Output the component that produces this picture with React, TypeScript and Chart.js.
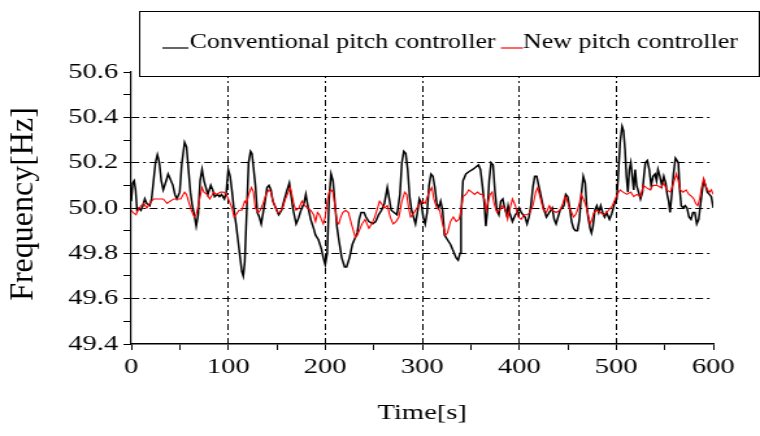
import React, { useEffect, useRef } from "react";
import { Chart, registerables } from "chart.js";

Chart.register(...registerables);

// ---------- data ----------
const convTime = [
  0, 1.5, 3, 4.5, 6, 8, 10, 12, 14, 16, 19, 21, 23, 25, 27, 29, 31, 33, 36, 38, 40, 43, 45, 47, 50, 52, 55, 57, 59, 61,
  63, 65, 67, 69, 71, 73, 75, 77, 79, 82, 84, 86, 89, 91, 93, 96, 98, 100, 102, 104, 106, 108, 110, 112, 114, 115.5, 117, 119, 121, 123,
  124.5, 126, 128, 130, 132, 134, 136, 138, 140, 142, 144, 146, 149, 152, 155, 158, 160, 163, 165, 167, 170, 172, 175, 178, 180, 182, 185, 188, 190, 193,
  196, 198, 200, 202, 204, 206, 208, 210, 212, 214, 217, 220, 222, 225, 228, 231, 233, 235, 237, 240, 242, 245, 249, 252, 255, 258, 261, 264, 266, 268,
  271, 274, 277, 279, 281, 283, 285, 287, 289, 291, 293, 295, 297, 299, 301, 303, 305, 307, 309, 311, 313, 315, 317, 319, 321, 323, 326, 329, 332, 335,
  337, 339, 340, 342, 345, 348, 352, 355, 358, 360, 362, 364, 365.5, 367, 369, 371, 373, 375, 377, 379, 381, 383, 385, 387, 388.5, 390, 393, 396, 398, 400,
  402, 404, 406, 408, 410, 412, 414, 416, 418, 420, 422, 425, 428, 431, 434, 436, 438, 440, 442, 444, 446, 448, 450, 452, 454, 456, 458, 460, 462, 464,
  466, 468, 469.5, 471, 473, 474.5, 476, 478, 480, 482, 484, 486, 488, 490, 493, 495, 497, 499, 500.5, 502, 504, 506, 507.5, 509, 510.5, 512, 513.5, 515, 516.5, 518,
  519.5, 521, 523, 525, 527, 528.5, 530, 532, 534, 536, 538, 540, 541.5, 543, 545, 547, 549, 551, 552.5, 554, 555.5, 557, 559, 561, 562.5, 564, 565.5, 567, 569, 571,
  573, 575, 577, 579, 581, 583, 585, 587, 589, 590.5, 592, 594, 596, 598, 600,
];
const convFreq = [
  50.03, 50.11, 50.12, 50.08, 49.99, 50.0, 49.99, 50.01, 50.04, 50.02, 50.01, 50.04, 50.12, 50.2, 50.235, 50.2, 50.12, 50.08, 50.12, 50.15, 50.13, 50.1, 50.06, 50.04, 50.07, 50.19, 50.29, 50.27, 50.17, 50.07,
  50.01, 49.97, 49.92, 49.97, 50.12, 50.17, 50.12, 50.09, 50.06, 50.1, 50.08, 50.05, 50.06, 50.05, 50.06, 50.04, 50.07, 50.17, 50.14, 50.07, 49.99, 49.93, 49.86, 49.79, 49.72, 49.7, 49.76, 49.98, 50.2, 50.25,
  50.24, 50.18, 50.1, 49.98, 49.96, 49.93, 49.98, 50.03, 50.09, 50.1, 50.08, 50.03, 50.0, 49.97, 49.99, 50.04, 50.07, 50.11, 50.05, 49.99, 49.93, 49.95, 49.99, 50.02, 50.06, 50.01, 49.95, 49.91, 49.88, 49.86,
  49.82, 49.78, 49.75, 49.8, 50.04, 50.15, 50.12, 50.02, 49.92, 49.86, 49.78, 49.74, 49.74, 49.78, 49.84, 49.87, 49.89, 49.95, 49.98, 49.98, 49.96, 49.94, 49.93, 49.94, 49.97, 49.99, 50.02, 50.09, 50.04, 49.99,
  49.98, 49.97, 50.06, 50.2, 50.25, 50.24, 50.17, 50.05, 49.99, 49.96, 49.93, 49.98, 50.04, 50.02, 49.96, 49.93, 49.98, 50.1, 50.15, 50.14, 50.09, 50.02, 50.0, 50.03, 49.99, 49.88, 49.86, 49.84, 49.81, 49.78,
  49.77, 49.8, 49.96, 50.12, 50.15, 50.16, 50.17, 50.18, 50.19, 50.17, 50.1, 50.02, 49.92, 49.98, 50.12, 50.2, 50.19, 50.07, 49.99, 49.97, 50.03, 50.04, 50.0, 49.97, 50.01, 49.98, 49.94, 49.97, 49.98, 50.0,
  49.98, 49.97, 49.96, 49.93, 49.96, 50.01, 50.09, 50.14, 50.14, 50.1, 50.06, 50.0, 49.96, 49.98, 50.0, 49.95, 49.93, 49.96, 49.99, 50.0, 50.01, 50.06, 50.05, 50.0, 49.94, 49.91, 49.9, 49.9, 49.95, 50.06,
  50.14, 50.11, 50.01, 49.96, 49.91, 49.89, 49.92, 49.99, 50.01, 49.98, 50.01, 49.98, 49.96, 49.98, 49.95, 49.97, 50.0, 50.03, 50.04, 50.14, 50.29, 50.36, 50.34, 50.26, 50.14, 50.07, 50.17, 50.2, 50.14, 50.08,
  50.17, 50.1, 50.07, 50.04, 50.07, 50.14, 50.2, 50.21, 50.17, 50.1, 50.14, 50.15, 50.12, 50.17, 50.14, 50.1, 50.14, 50.11, 50.06, 50.03, 49.98, 50.05, 50.15, 50.22, 50.21, 50.2, 50.08, 50.01, 50.0, 50.01,
  50.0, 49.96, 49.95, 49.98, 49.98, 49.93, 49.95, 50.02, 50.09, 50.12, 50.1, 50.07, 50.06, 50.05, 50.0,
];

const newTime = [
  0, 2, 5, 7, 10, 13, 16, 19, 23, 26, 30, 33, 37, 40, 44, 47, 51, 55, 57, 59, 62, 65, 67, 69, 72, 73, 75, 78, 81, 85,
  88, 92, 95, 98, 101, 104, 106, 108, 111, 114, 117, 119, 121, 124, 126, 128, 131, 133, 136, 139, 142, 144, 146, 149, 151, 153, 156, 159, 162, 164,
  166, 168, 170, 173, 176, 179, 182, 185, 188, 190, 192, 194, 196, 198, 200, 202, 204, 206, 208, 210, 212, 214, 216, 218, 221, 224, 227, 229, 231, 233,
  236, 238, 241, 243, 245, 248, 251, 254, 256, 258, 261, 264, 267, 270, 273, 276, 279, 282, 284, 286, 288, 290, 293, 296, 300, 303, 307, 310, 312, 315,
  318, 321, 324, 326, 329, 332, 335, 338, 340, 342, 345, 348, 351, 354, 357, 360, 362, 364, 366, 368, 370, 372, 374, 377, 380, 383, 386, 388, 390, 393,
  396, 399, 402, 405, 408, 411, 414, 417, 419, 422, 425, 428, 431, 434, 438, 442, 445, 447, 449, 451, 454, 456, 458, 460, 462, 464, 466, 468, 470, 473,
  475, 477, 480, 484, 487, 490, 494, 496, 498, 501, 504, 507, 511, 515, 518, 521, 525, 528, 531, 535, 538, 542, 546, 549, 552, 556, 559, 562, 564, 566,
  569, 572, 575, 578, 580, 582, 584, 586, 588, 590, 592, 594, 596, 598, 600,
];
const newFreq = [
  49.99, 49.98, 49.97, 49.99, 50.01, 50.02, 50.0, 50.02, 50.04, 50.04, 50.04, 50.04, 50.02, 50.03, 50.04, 50.04, 50.04, 50.07, 50.06, 50.03, 49.99, 49.96, 49.97, 50.01, 50.07, 50.09, 50.07, 50.06, 50.04, 50.07,
  50.06, 50.07, 50.07, 50.06, 50.03, 50.0, 49.96, 49.97, 49.99, 49.99, 50.03, 50.02, 50.06, 50.09, 50.07, 50.0, 49.98, 49.99, 50.02, 50.06, 50.08, 50.07, 50.03, 50.0, 49.98, 49.98, 50.0, 50.04, 50.07, 50.09,
  50.05, 50.01, 49.99, 50.0, 50.03, 50.01, 50.0, 49.99, 49.97, 49.94, 49.98, 49.97, 49.95, 49.93, 49.96, 50.03, 50.07, 50.08, 50.07, 50.01, 49.94, 49.93, 49.96, 49.98, 49.99, 49.98, 49.93, 49.9, 49.87, 49.88,
  49.91, 49.93, 49.95, 49.93, 49.91, 49.93, 49.96, 50.0, 50.03, 50.02, 50.0, 50.01, 49.96, 49.93, 49.94, 49.96, 50.03, 50.07, 50.06, 50.0, 49.96, 49.97, 49.99, 50.01, 50.03, 50.02, 50.07, 50.09, 50.04, 50.0,
  49.99, 49.93, 49.88, 49.89, 49.94, 49.96, 49.94, 49.95, 49.99, 50.05, 50.06, 50.08, 50.07, 50.06, 50.07, 50.06, 50.06, 50.04, 49.99, 50.03, 50.06, 50.07, 50.02, 49.98, 49.99, 50.01, 49.99, 49.95, 49.99, 50.04,
  50.01, 49.96, 49.95, 49.97, 49.97, 49.98, 50.01, 50.07, 50.09, 50.04, 49.99, 49.98, 50.01, 49.99, 49.98, 49.99, 50.02, 50.05, 50.04, 50.01, 49.98, 49.96, 49.97, 49.99, 50.02, 50.06, 50.04, 50.02, 49.99, 49.93,
  49.95, 49.98, 49.99, 49.98, 49.97, 49.98, 50.0, 50.01, 50.03, 50.06, 50.08, 50.07, 50.06, 50.07, 50.05, 50.06, 50.05, 50.1, 50.09, 50.08, 50.1, 50.1, 50.09, 50.11, 50.08, 50.07, 50.11, 50.15, 50.12, 50.08,
  50.07, 50.08, 50.06, 50.05, 50.04, 50.02, 50.01, 50.04, 50.09, 50.13, 50.1, 50.08, 50.07, 50.08, 50.06,
];

const seriesNames = ["Conventional pitch controller", "New pitch controller"];
const seriesColors = ["#000000", "#ff0000"];
const xTitle = "Time[s]";
const yTitle = "Frequency[Hz]";
const xMin = 0;
const xMax = 600;
const xMajor = 100;
const xMinor = 50;
const yMin = 49.4;
const yMax = 50.6;
const yMinor = 0.1;

// ---------- layout (canvas is drawn narrow and stretched horizontally) ----------
const W = 760;
const H = 436;
const IW = 585; // internal canvas width
const SX = W / IW;
const FONT = '"Liberation Serif", "Times New Roman", serif';
const GRID_DASH = [6, 3, 2, 3];

const legendPlugin = {
  id: "boxLegend",
  afterDraw(chart: any) {
    const ctx = chart.ctx as CanvasRenderingContext2D;
    ctx.save();
    const x0 = 107;
    const y0 = 11;
    const x1 = IW - 1;
    const y1 = 76;
    ctx.fillStyle = "#ffffff";
    ctx.fillRect(x0, y0, x1 - x0, y1 - y0);
    ctx.strokeStyle = "#000000";
    ctx.lineWidth = 1;
    ctx.strokeRect(x0 + 0.5, y0 + 0.5, x1 - x0, y1 - y0);
    ctx.font = `20px ${FONT}`;
    ctx.textBaseline = "alphabetic";
    ctx.textAlign = "left";
    const base = 48;
    ctx.strokeStyle = seriesColors[0];
    ctx.lineWidth = 1.2;
    ctx.beginPath();
    ctx.moveTo(125, base);
    ctx.lineTo(145, base);
    ctx.stroke();
    ctx.fillStyle = "#000000";
    ctx.fillText(seriesNames[0], 146, base);
    const w1 = ctx.measureText(seriesNames[0]).width;
    const sx = 146 + w1 + 4;
    ctx.strokeStyle = seriesColors[1];
    ctx.beginPath();
    ctx.moveTo(sx, base);
    ctx.lineTo(sx + 17, base);
    ctx.stroke();
    ctx.fillText(seriesNames[1], sx + 17, base);

    // y-axis title, drawn with the horizontal stretch undone
    const ya = chart.scales.y;
    const cy = (ya.top + ya.bottom) / 2 - 4;
    ctx.translate(18.5, cy);
    ctx.scale(1 / SX, 1);
    ctx.rotate(-Math.PI / 2);
    ctx.font = `32px ${FONT}`;
    ctx.textAlign = "center";
    ctx.textBaseline = "middle";
    ctx.fillStyle = "#000000";
    ctx.fillText(yTitle, 0, 0);
    ctx.restore();
  },
};

function isMajorY(v: number) {
  const k = Math.round(v * 10);
  return k % 2 === 0;
}

export default function App() {
  const ref = useRef<HTMLCanvasElement>(null);

  useEffect(() => {
    const canvas = ref.current;
    if (!canvas) return;
    const chart = new Chart(canvas, {
      type: "line",
      data: {
        datasets: [
          {
            label: seriesNames[1],
            data: newTime.map((t, i) => ({ x: t, y: newFreq[i] })),
            borderColor: seriesColors[1],
            borderWidth: 1.1,
            pointRadius: 0,
            tension: 0,
            fill: false,
            order: 0,
          },
          {
            label: seriesNames[0],
            data: convTime.map((t, i) => ({ x: t, y: convFreq[i] })),
            borderColor: seriesColors[0],
            borderWidth: 1.5,
            pointRadius: 0,
            tension: 0,
            fill: false,
            order: 1,
          },
        ],
      },
      options: {
        animation: false,
        responsive: false,
        devicePixelRatio: 1,
        events: [],
        layout: { padding: { top: 72, right: IW - 549, left: 0, bottom: 0 } },
        plugins: {
          legend: { display: false },
          tooltip: { enabled: false },
        },
        scales: {
          x: {
            type: "linear",
            min: xMin,
            max: xMax,
            afterFit: (s: any) => {
              s.height = 92;
            },
            ticks: {
              stepSize: xMinor,
              autoSkip: false,
              maxRotation: 0,
              padding: 4,
              color: "#000",
              font: { family: FONT, size: 22 },
              callback: (v: any) => (Math.round(Number(v)) % xMajor === 0 ? String(Math.round(Number(v))) : ""),
            },
            grid: {
              color: (c: any) => {
                const v = c.tick ? Math.round(c.tick.value) : -1;
                return v % xMajor === 0 && v !== xMin && v !== xMax ? "#000" : "rgba(0,0,0,0)";
              },
              tickColor: "#000",
              tickLength: 6,
              lineWidth: 1,
            },
            border: { display: true, color: "#000", width: 1.5, dash: GRID_DASH },
            title: {
              display: true,
              text: xTitle,
              color: "#000",
              font: { family: FONT, size: 22 },
              padding: { top: 0, bottom: 10 },
            },
          },
          y: {
            type: "linear",
            min: yMin,
            max: yMax,
            afterFit: (s: any) => {
              s.width = 101;
            },
            ticks: {
              stepSize: yMinor,
              autoSkip: false,
              padding: 4,
              color: "#000",
              font: { family: FONT, size: 22 },
              callback: (v: any) => (isMajorY(Number(v)) ? Number(v).toFixed(1) : ""),
            },
            grid: {
              color: (c: any) => {
                if (!c.tick) return "rgba(0,0,0,0)";
                const v = c.tick.value;
                const edge = Math.abs(v - yMin) < 1e-6 || Math.abs(v - yMax) < 1e-6;
                return isMajorY(v) && !edge ? "#000" : "rgba(0,0,0,0)";
              },
              tickColor: "#000",
              tickLength: 6,
              lineWidth: 1,
            },
            border: { display: true, color: "#000", width: 1.2, dash: GRID_DASH },
            title: { display: false },
          },
        },
      },
      plugins: [legendPlugin],
    } as any);
    return () => chart.destroy();
  }, []);

  return (
    <div style={{ position: "fixed", left: 0, top: 0, width: W, height: H, background: "#fff" }}>
      <canvas
        ref={ref}
        width={IW}
        height={H}
        style={{ width: `${W}px`, height: `${H}px`, display: "block" }}
      />
    </div>
  );
}
